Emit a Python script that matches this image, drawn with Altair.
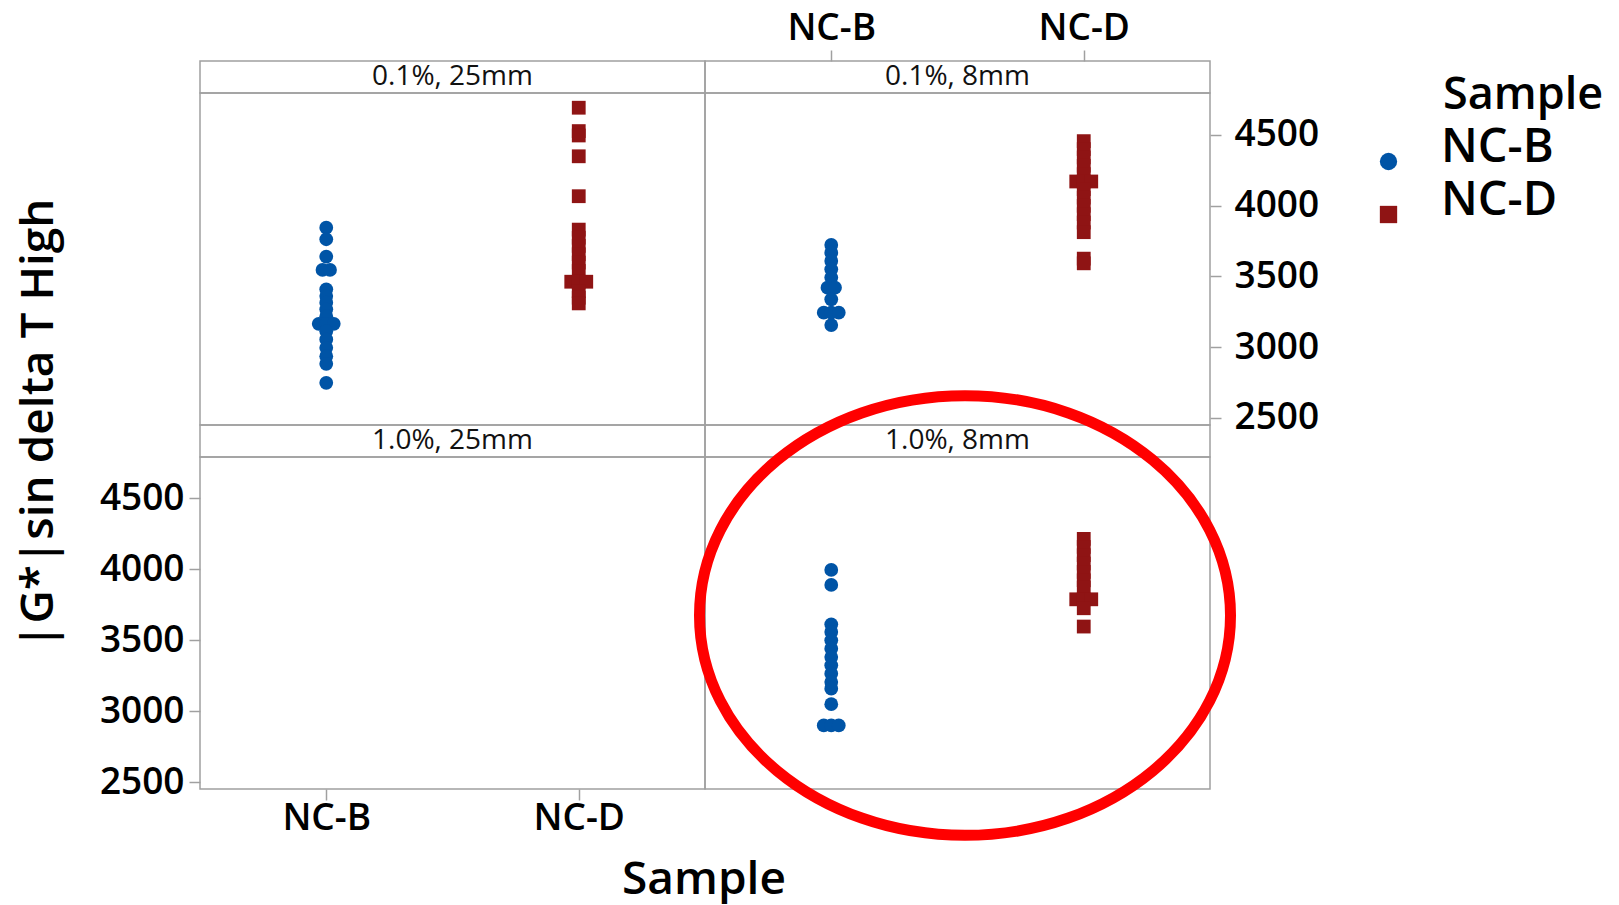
import altair as alt
import pandas as pd

# Sample groups and panel conditions (strain, plate geometry)
SAMPLES = ["NC-B", "NC-D"]
PANELS = ["0.1%, 25mm", "0.1%, 8mm", "1.0%, 25mm", "1.0%, 8mm"]
COLORS = ["#0054a6", "#8f1414"]
SHAPES = ["circle", "square"]
Y_TICKS = [2500, 3000, 3500, 4000, 4500]

# |G*|sin(delta) at T High, individual values per panel and sample
b_01_25 = [3844, 3762, 3639, 3545, 3545, 3408, 3361, 3314, 3267, 3219,
           3165, 3165, 3165, 3113, 3054, 2995, 2936, 2882, 2748]
d_01_25 = [4691, 4526, 4495, 4348, 4066, 3830, 3773, 3715, 3656, 3597,
           3538, 3462, 3462, 3462, 3396, 3349, 3309]
b_01_8 = [3722, 3667, 3609, 3550, 3491, 3420, 3420, 3338, 3243, 3243,
          3243, 3156]
d_01_8 = [4455, 4399, 4340, 4281, 4222, 4170, 4170, 4170, 4116, 4056,
          3998, 3939, 3880, 3812, 3625, 3592]
b_10_25 = []
d_10_25 = []
b_10_8 = [3996, 3890, 3613, 3559, 3500, 3441, 3382, 3324, 3265, 3206,
          3159, 3050, 2900, 2900, 2900]
d_10_8 = [4215, 4158, 4100, 4041, 3982, 3923, 3872, 3789, 3789, 3789,
          3726, 3597]

series = [
    (PANELS[0], "NC-B", b_01_25), (PANELS[0], "NC-D", d_01_25),
    (PANELS[1], "NC-B", b_01_8), (PANELS[1], "NC-D", d_01_8),
    (PANELS[2], "NC-B", b_10_25), (PANELS[2], "NC-D", d_10_25),
    (PANELS[3], "NC-B", b_10_8), (PANELS[3], "NC-D", d_10_8),
]
rows = [{"Panel": p, "Sample": s, "Value": v} for p, s, vals in series for v in vals]
df = pd.DataFrame(rows, columns=["Panel", "Sample", "Value"])

FONT = "Open Sans"
GRID = "#a0a0a0"
W = 505
STRIP_H = 32
PLOT_H = [332, 332]
Y_DOMAIN = [[2450, 4795], [2452, 4792]]
X_DOMAIN = [-0.5, 1.5]
DODGE = 0.0297  # sideways step for tied values, in category units

x_scale = alt.Scale(domain=X_DOMAIN, nice=False, zero=False)
label_expr = "datum.value == 0 ? 'NC-B' : 'NC-D'"


def x_axis(orient, pad):
    return alt.Axis(orient=orient, values=[0, 1], labelExpr=label_expr,
                    labelFontSize=37, labelFontWeight=600, labelPadding=pad,
                    tickSize=11, title=None)


def y_axis(orient, pad):
    return alt.Axis(orient=orient, values=Y_TICKS, format="d", labelFontSize=37,
                    labelFontWeight=600, labelPadding=pad, tickSize=11, title=None)


legend = alt.Legend(
    orient="none", legendX=1243, legendY=12, title="Sample",
    titleFontSize=45, titleFont=FONT, titleFontWeight=600, titleColor="black",
    titlePadding=20, labelFontSize=47, labelFont=FONT, labelFontWeight=600,
    labelColor="black", labelBaseline="alphabetic",
    labelOffset={"expr": "29"}, symbolOffset={"expr": "-78"},
    symbolSize=300, symbolStrokeWidth=0, rowPadding=5, padding=0,
)


def strip(name, top_axis=False):
    axis = x_axis("top", 3) if top_axis else None
    return alt.Chart(pd.DataFrame({"label": [name]})).mark_text(
        font=FONT, fontSize=28, color="#111111"
    ).encode(
        text="label:N",
        x=alt.XDatum(0.5, type="quantitative", scale=x_scale, axis=axis),
    ).properties(width=W, height=STRIP_H)


def plot(name, row, xaxis=None, yaxis=None, extra=None):
    pts = alt.Chart(df).transform_filter(
        alt.datum.Panel == name
    ).transform_joinaggregate(
        n="count()", groupby=["Sample", "Value"]
    ).transform_window(
        k="row_number()", groupby=["Sample", "Value"]
    ).transform_calculate(
        xpos=f"indexof({SAMPLES}, datum.Sample) + (datum.k - (datum.n + 1) / 2) * {DODGE}"
    ).mark_point(filled=True, opacity=1, size=190).encode(
        x=alt.X("xpos:Q", scale=x_scale, axis=xaxis),
        y=alt.Y("Value:Q", scale=alt.Scale(domain=Y_DOMAIN[row], nice=False, zero=False),
                axis=yaxis),
        color=alt.Color("Sample:N", scale=alt.Scale(domain=SAMPLES, range=COLORS), legend=legend),
        shape=alt.Shape("Sample:N", scale=alt.Scale(domain=SAMPLES, range=SHAPES), legend=legend),
    )
    layers = [pts] + ([extra] if extra is not None else [])
    return alt.layer(*layers).properties(width=W, height=PLOT_H[row])


# red ellipse highlighting the 1.0%, 8mm panel
k = 0.5523
ry = 0.828
ELLIPSE = (f"M1,0 C1,{k*ry:.4f} {k},{ry} 0,{ry} C{-k},{ry} -1,{k*ry:.4f} -1,0 "
           f"C-1,{-k*ry:.4f} {-k},{-ry} 0,{-ry} C{k},{-ry} 1,{-k*ry:.4f} 1,0 Z")
ring = alt.Chart(pd.DataFrame({"note": ["highlight"]})).mark_point(
    shape=ELLIPSE, size=531 ** 2, filled=False, color="#ff0000",
    strokeWidth=11, opacity=1,
).encode(x=alt.value(260), y=alt.value(158.5))

cells = [
    strip(PANELS[0]), strip(PANELS[1], top_axis=True),
    plot(PANELS[0], 0), plot(PANELS[1], 0, yaxis=y_axis("right", 13)),
    strip(PANELS[2]), strip(PANELS[3]),
    plot(PANELS[2], 1, xaxis=x_axis("bottom", 0), yaxis=y_axis("left", 5)),
    plot(PANELS[3], 1, extra=ring),
]

grid = alt.concat(
    *cells, columns=2, spacing=0, bounds="flush",
    title=alt.TitleParams("Sample", orient="bottom", anchor="middle", fontSize=46,
                          font=FONT, fontWeight=600, color="black", offset=0, dx=-5),
)

chart = alt.vconcat(
    grid,
    title=alt.TitleParams("|G*|sin delta T High", orient="left", anchor="middle",
                          fontSize=46, font=FONT, fontWeight=600, color="black",
                          offset=36, dx=32),
).properties(
    padding={"left": 15, "top": 8, "right": 5, "bottom": 0},
    background="white",
).configure_view(
    stroke=GRID, strokeWidth=1.5,
).configure_axis(
    labelFont=FONT, labelColor="black", tickColor=GRID, tickWidth=1.5,
    domain=False, grid=False,
).configure_concat(spacing=0)

chart.save("out.html", embed_options={"renderer": "svg", "actions": False})
